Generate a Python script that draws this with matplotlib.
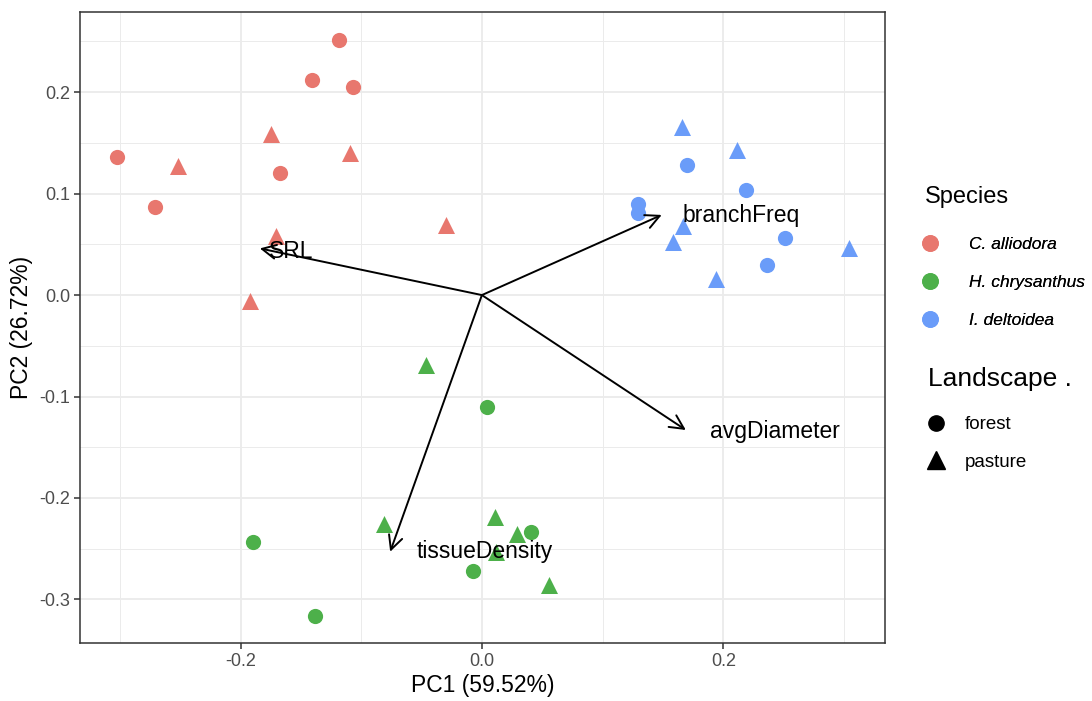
import numpy as np
import matplotlib.pyplot as plt
from matplotlib.lines import Line2D

plt.rcParams['font.family'] = ['Liberation Sans', 'DejaVu Sans']

# PCA scores
species = ["C. alliodora"] * 12 + ["H. chrysanthus"] * 11 + ["I. deltoidea"] * 12
landscape = (["forest"] * 6 + ["pasture"] * 6
             + ["forest"] * 5 + ["pasture"] * 6
             + ["forest"] * 6 + ["pasture"] * 6)
pc1 = [-0.118, -0.141, -0.107, -0.302, -0.271, -0.167,
       -0.252, -0.175, -0.109, -0.171, -0.030, -0.192,
       0.004, -0.190, -0.138, -0.007, 0.041,
       -0.046, -0.081, 0.011, 0.012, 0.029, 0.056,
       0.129, 0.129, 0.170, 0.219, 0.251, 0.236,
       0.166, 0.211, 0.167, 0.158, 0.194, 0.304]
pc2 = [0.251, 0.212, 0.205, 0.136, 0.087, 0.120,
       0.127, 0.159, 0.140, 0.058, 0.069, -0.006,
       -0.110, -0.243, -0.316, -0.272, -0.234,
       -0.069, -0.226, -0.219, -0.253, -0.236, -0.286,
       0.090, 0.081, 0.128, 0.104, 0.056, 0.030,
       0.166, 0.143, 0.068, 0.052, 0.016, 0.046]

# Loading vectors
variables = ["SRL", "branchFreq", "avgDiameter", "tissueDensity"]
load1 = [-0.184, 0.149, 0.169, -0.076]
load2 = [0.046, 0.079, -0.133, -0.253]
label1 = [-0.158, 0.215, 0.243, 0.002]
label2 = [0.043, 0.078, -0.134, -0.253]

species_names = ["C. alliodora", "H. chrysanthus", "I. deltoidea"]
species_colors = ["#E8776E", "#4DB04A", "#6A9CF9"]
shape_names = ["forest", "pasture"]
shape_markers = {"forest": "o", "pasture": "^"}
shape_sizes = {"forest": 120, "pasture": 150}

fig = plt.figure(figsize=(10.92, 7.01), dpi=100)
ax = fig.add_axes([0.0733, 0.0827, 0.7371, 0.9001])

pc1 = np.array(pc1)
pc2 = np.array(pc2)
species = np.array(species)
landscape = np.array(landscape)
for sp, col in zip(species_names, species_colors):
    for ls in shape_names:
        m = (species == sp) & (landscape == ls)
        ax.scatter(pc1[m], pc2[m], s=shape_sizes[ls], c=col,
                   marker=shape_markers[ls], linewidths=0, zorder=3)

for v, x, y, lx, ly in zip(variables, load1, load2, label1, label2):
    ax.annotate("", xy=(x, y), xytext=(0, 0),
                arrowprops=dict(arrowstyle="->,head_length=1.0,head_width=0.5",
                                color="black", lw=1.4, shrinkA=0, shrinkB=0),
                zorder=4)
    ax.text(lx, ly, v, ha="center", va="center", fontsize=16.5, zorder=5)

ax.set_xlim(-0.333, 0.334)
ax.set_ylim(-0.343, 0.279)
ax.set_xticks([-0.2, 0.0, 0.2])
ax.set_yticks([-0.3, -0.2, -0.1, 0.0, 0.1, 0.2])
ax.set_xticks([-0.3, -0.1, 0.1, 0.3], minor=True)
ax.set_yticks([-0.25, -0.15, -0.05, 0.05, 0.15, 0.25], minor=True)
ax.set_xticklabels(["-0.2", "0.0", "0.2"])
ax.set_yticklabels(["-0.3", "-0.2", "-0.1", "0.0", "0.1", "0.2"])
ax.grid(True, which="major", color="#EBEBEB", lw=1.3)
ax.grid(True, which="minor", color="#EBEBEB", lw=0.7)
ax.set_axisbelow(True)
ax.tick_params(which="major", length=4, width=1.1, color="#333333",
               labelsize=13, labelcolor="#4D4D4D", pad=3)
ax.tick_params(which="minor", length=0)
for s in ax.spines.values():
    s.set_color("#333333")
    s.set_linewidth(1.1)
ax.set_xlabel("PC1 (59.52%)", fontsize=16.5, labelpad=3)
ax.set_ylabel("PC2 (26.72%)", fontsize=16.5, labelpad=5)

# Legends: titles placed separately, keys below them
fig.text(925 / 1092, 1 - 197 / 701, "Species", fontsize=17,
         ha="left", va="center")
fig.text(928 / 1092, 1 - 379 / 701, "Landscape .", fontsize=19,
         ha="left", va="center")

sp_handles = [Line2D([], [], marker="o", ls="", color=c, markersize=11)
              for c in species_colors]
leg1 = fig.legend(sp_handles, species_names,
                  loc="upper left", bbox_to_anchor=(0.8425, 1 - 237 / 701),
                  frameon=False, prop={"style": "italic", "size": 12.5},
                  handlelength=1.2, handletextpad=1.6, labelspacing=1.3,
                  borderpad=0, borderaxespad=0)
sh_handles = [Line2D([], [], marker=shape_markers[s], ls="", color="black",
                     markersize=11 if s == "forest" else 13)
              for s in shape_names]
leg2 = fig.legend(sh_handles, shape_names,
                  loc="upper left", bbox_to_anchor=(0.8465, 1 - 416 / 701),
                  frameon=False, fontsize=13.5,
                  handlelength=1.2, handletextpad=0.95, labelspacing=1.1,
                  borderpad=0, borderaxespad=0)
fig.add_artist(leg1)

fig.savefig("out.png", dpi=100)
